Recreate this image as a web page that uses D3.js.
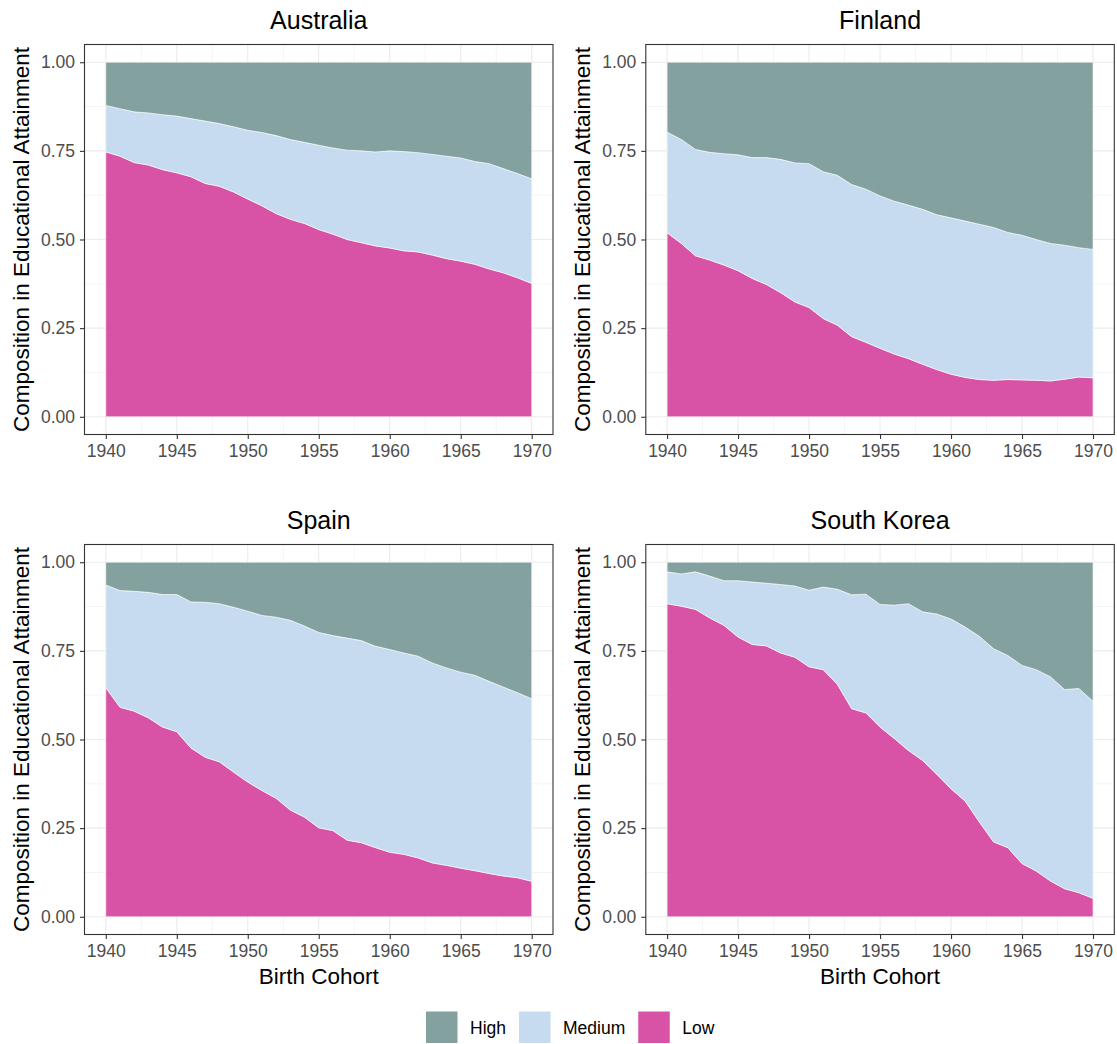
<!DOCTYPE html>
<html>
<head>
	<meta charset="utf-8">
	<title>Composition in Educational Attainment by Birth Cohort</title>
	<style>
		body {
			margin: 0;
			background: #fff;
		}
		svg {
			font-family: "Liberation Sans", Arial, Helvetica, sans-serif;
		}
		.grid-major {
			stroke: #ebebeb;
			stroke-width: 1.1px;
		}
		.grid-minor {
			stroke: #ebebeb;
			stroke-width: 0.55px;
		}
		.border {
			fill: none;
			stroke: #333;
			stroke-width: 1.1px;
		}
		.axis path {
			display: none;
		}
		.axis line {
			stroke: #333;
			stroke-width: 1.1px;
		}
		.axis text {
			font-family: "Liberation Sans", Arial, Helvetica, sans-serif;
			font-size: 17.5px;
			fill: #4d4d4d;
		}
		.area {
			stroke: #fff;
			stroke-width: 0.6px;
			fill-opacity: 0.9;
		}
		.strip {
			font-size: 25px;
			fill: #000;
		}
		.axis-title {
			font-size: 22.5px;
			fill: #000;
		}
		.legend text {
			font-size: 17.5px;
			fill: #000;
		}
	</style>
</head>
<body>
	<svg id="chart"></svg>
	<script src="https://cdn.jsdelivr.net/npm/d3@7"></script>
	<script>
		// birth cohorts (x axis)
		var years = [1940, 1941, 1942, 1943, 1944, 1945, 1946, 1947, 1948, 1949,
			1950, 1951, 1952, 1953, 1954, 1955, 1956, 1957, 1958, 1959,
			1960, 1961, 1962, 1963, 1964, 1965, 1966, 1967, 1968, 1969, 1970];

		var levels = ['Low', 'Medium', 'High'];
		var levelColors = ['rgb(212,64,155)', 'rgb(192,214,238)', 'rgb(118,151,148)'];

		var countryNames = ['Australia', 'Finland', 'Spain', 'South Korea'];

		var xTicks = [1940, 1945, 1950, 1955, 1960, 1965, 1970];
		var yTicks = [0, 0.25, 0.5, 0.75, 1];

		// shares, one value per cohort
		var australiaLow = [0.747, 0.735, 0.717, 0.710, 0.697, 0.688, 0.677, 0.658, 0.650, 0.634,
			0.614, 0.595, 0.573, 0.557, 0.545, 0.528, 0.515, 0.500, 0.491, 0.482,
			0.476, 0.468, 0.465, 0.456, 0.446, 0.439, 0.430, 0.417, 0.406, 0.392, 0.376];
		var australiaMedium = [0.131, 0.134, 0.143, 0.147, 0.155, 0.160, 0.164, 0.176, 0.177, 0.184,
			0.194, 0.207, 0.220, 0.225, 0.229, 0.238, 0.243, 0.252, 0.259, 0.265,
			0.274, 0.280, 0.280, 0.284, 0.289, 0.291, 0.290, 0.297, 0.294, 0.294, 0.295];
		var australiaHigh = [0.122, 0.131, 0.140, 0.143, 0.148, 0.152, 0.159, 0.166, 0.173, 0.182,
			0.192, 0.198, 0.207, 0.218, 0.226, 0.234, 0.242, 0.248, 0.250, 0.253,
			0.250, 0.252, 0.255, 0.260, 0.265, 0.270, 0.280, 0.286, 0.300, 0.314, 0.329];

		var finlandLow = [0.519, 0.489, 0.454, 0.442, 0.428, 0.412, 0.390, 0.373, 0.350, 0.324,
			0.308, 0.277, 0.258, 0.226, 0.210, 0.193, 0.177, 0.164, 0.148, 0.133,
			0.120, 0.111, 0.105, 0.103, 0.105, 0.104, 0.103, 0.101, 0.106, 0.112, 0.110];
		var finlandMedium = [0.284, 0.293, 0.300, 0.304, 0.314, 0.327, 0.341, 0.358, 0.376, 0.392,
			0.406, 0.414, 0.423, 0.429, 0.432, 0.430, 0.431, 0.433, 0.437, 0.437,
			0.441, 0.441, 0.438, 0.431, 0.415, 0.408, 0.397, 0.388, 0.378, 0.365, 0.362];
		var finlandHigh = [0.197, 0.218, 0.246, 0.254, 0.258, 0.261, 0.269, 0.269, 0.274, 0.284,
			0.286, 0.309, 0.319, 0.345, 0.358, 0.377, 0.392, 0.403, 0.415, 0.430,
			0.439, 0.448, 0.457, 0.466, 0.480, 0.488, 0.500, 0.511, 0.516, 0.523, 0.528];

		var spainLow = [0.646, 0.591, 0.580, 0.561, 0.535, 0.522, 0.476, 0.450, 0.437, 0.408,
			0.380, 0.356, 0.334, 0.301, 0.281, 0.251, 0.243, 0.216, 0.209, 0.195,
			0.182, 0.176, 0.166, 0.152, 0.145, 0.137, 0.130, 0.122, 0.115, 0.110, 0.100];
		var spainMedium = [0.290, 0.329, 0.338, 0.354, 0.374, 0.387, 0.412, 0.437, 0.446, 0.465,
			0.482, 0.494, 0.511, 0.535, 0.539, 0.551, 0.550, 0.570, 0.570, 0.568,
			0.572, 0.568, 0.569, 0.564, 0.557, 0.553, 0.551, 0.542, 0.533, 0.522, 0.515];
		var spainHigh = [0.064, 0.080, 0.082, 0.085, 0.091, 0.091, 0.112, 0.113, 0.117, 0.127,
			0.138, 0.150, 0.155, 0.164, 0.180, 0.198, 0.207, 0.214, 0.221, 0.237,
			0.246, 0.256, 0.265, 0.284, 0.298, 0.310, 0.319, 0.336, 0.352, 0.368, 0.385];

		var koreaLow = [0.883, 0.876, 0.867, 0.843, 0.822, 0.789, 0.768, 0.764, 0.744, 0.732,
			0.705, 0.697, 0.655, 0.587, 0.575, 0.535, 0.503, 0.469, 0.441, 0.402,
			0.361, 0.326, 0.267, 0.211, 0.195, 0.150, 0.129, 0.101, 0.079, 0.068, 0.052];
		var koreaMedium = [0.090, 0.091, 0.106, 0.118, 0.126, 0.159, 0.176, 0.177, 0.193, 0.201,
			0.216, 0.233, 0.269, 0.321, 0.335, 0.346, 0.376, 0.414, 0.419, 0.452,
			0.479, 0.491, 0.524, 0.545, 0.542, 0.559, 0.568, 0.576, 0.562, 0.576, 0.556];
		var koreaHigh = [0.027, 0.033, 0.027, 0.039, 0.052, 0.052, 0.056, 0.059, 0.063, 0.067,
			0.079, 0.070, 0.076, 0.092, 0.090, 0.119, 0.121, 0.117, 0.140, 0.146,
			0.160, 0.183, 0.209, 0.244, 0.263, 0.291, 0.303, 0.323, 0.359, 0.356, 0.392];

		var countryShares = [
			[australiaLow, australiaMedium, australiaHigh],
			[finlandLow, finlandMedium, finlandHigh],
			[spainLow, spainMedium, spainHigh],
			[koreaLow, koreaMedium, koreaHigh]
		];

		/**
		 * layout (facet grid 2 x 2)
		 */
		var width = 1117, height = 1044;
		var panelW = 468.5, panelH = 390;
		var panelLeft = [84.5, 645.8];
		var panelTop = [44.5, 544.5];

		var svg = d3.select('#chart')
						.attr('width', width)
						.attr('height', height);

		var x = d3.scaleLinear()
						.domain([1938.5, 1971.5])
						.range([0, panelW]);

		var y = d3.scaleLinear()
						.domain([-0.05, 1.05])
						.range([panelH, 0]);

		var color = d3.scaleOrdinal()
						.domain(levels)
						.range(levelColors);

		var stack = d3.stack().keys(levels);

		var areaFn = d3.area()
						.x(function(d) { return x(d.data.year); })
						.y0(function(d) { return y(d[0]); })
						.y1(function(d) { return y(d[1]); });

		var minorX = [], minorY = [];
		for (var i = 0; i < xTicks.length - 1; i++) minorX.push((xTicks[i] + xTicks[i + 1]) / 2);
		for (var j = 0; j < yTicks.length - 1; j++) minorY.push((yTicks[j] + yTicks[j + 1]) / 2);

		countryNames.forEach(function (name, k) {
			var col = k % 2, row = Math.floor(k / 2);
			var shares = countryShares[k];

			var table = years.map(function (yr, n) {
				return { year: yr, Low: shares[0][n], Medium: shares[1][n], High: shares[2][n] };
			});

			var g = svg.append('g')
						.attr('transform', 'translate(' + panelLeft[col] + ',' + panelTop[row] + ')');

			// grid
			g.selectAll('.gx-minor').data(minorX).enter().append('line')
				.attr('class', 'grid-minor')
				.attr('x1', x).attr('x2', x)
				.attr('y1', 0).attr('y2', panelH);
			g.selectAll('.gy-minor').data(minorY).enter().append('line')
				.attr('class', 'grid-minor')
				.attr('y1', y).attr('y2', y)
				.attr('x1', 0).attr('x2', panelW);
			g.selectAll('.gx-major').data(xTicks).enter().append('line')
				.attr('class', 'grid-major')
				.attr('x1', x).attr('x2', x)
				.attr('y1', 0).attr('y2', panelH);
			g.selectAll('.gy-major').data(yTicks).enter().append('line')
				.attr('class', 'grid-major')
				.attr('y1', y).attr('y2', y)
				.attr('x1', 0).attr('x2', panelW);

			// stacked areas
			g.selectAll('.area')
				.data(stack(table))
				.enter().append('path')
				.attr('class', 'area')
				.attr('fill', function(d) { return color(d.key); })
				.attr('d', areaFn);

			g.append('rect')
				.attr('class', 'border')
				.attr('width', panelW)
				.attr('height', panelH);

			// axes
			g.append('g')
				.attr('class', 'axis')
				.attr('transform', 'translate(0,' + panelH + ')')
				.call(d3.axisBottom(x).tickValues(xTicks).tickFormat(d3.format('d')).tickSize(4.5).tickPadding(5.8));

			g.append('g')
				.attr('class', 'axis')
				.call(d3.axisLeft(y).tickValues(yTicks).tickFormat(d3.format('.2f')).tickSize(4.5).tickPadding(5));

			// strip title
			g.append('text')
				.attr('class', 'strip')
				.attr('x', panelW / 2)
				.attr('y', -16)
				.attr('text-anchor', 'middle')
				.text(name);

			g.append('text')
				.attr('class', 'axis-title')
				.attr('transform', 'translate(' + (29 - panelLeft[0]) + ',' + (panelH / 2) + ') rotate(-90)')
				.attr('text-anchor', 'middle')
				.text('Composition in Educational Attainment');

			if (row === 1) {
				g.append('text')
					.attr('class', 'axis-title')
					.attr('x', x(1955))
					.attr('y', panelH + 49)
					.attr('text-anchor', 'middle')
					.text('Birth Cohort');
			}
		});

		/**
		 * legend (High, Medium, Low)
		 */
		var legend = svg.append('g').attr('class', 'legend');
		var keySize = 31.5, lx = 426, ly = 1011.5;
		levels.slice().reverse().forEach(function (lvl) {
			legend.append('rect')
				.attr('x', lx).attr('y', ly)
				.attr('width', keySize).attr('height', keySize)
				.attr('fill', color(lvl))
				.attr('fill-opacity', 0.9);
			var t = legend.append('text')
				.attr('x', lx + keySize + 12.5)
				.attr('y', ly + keySize / 2 + 6.3)
				.text(lvl);
			lx = lx + keySize + 12.5 + t.node().getComputedTextLength() + 13;
		});
	</script>
</body>
</html>
